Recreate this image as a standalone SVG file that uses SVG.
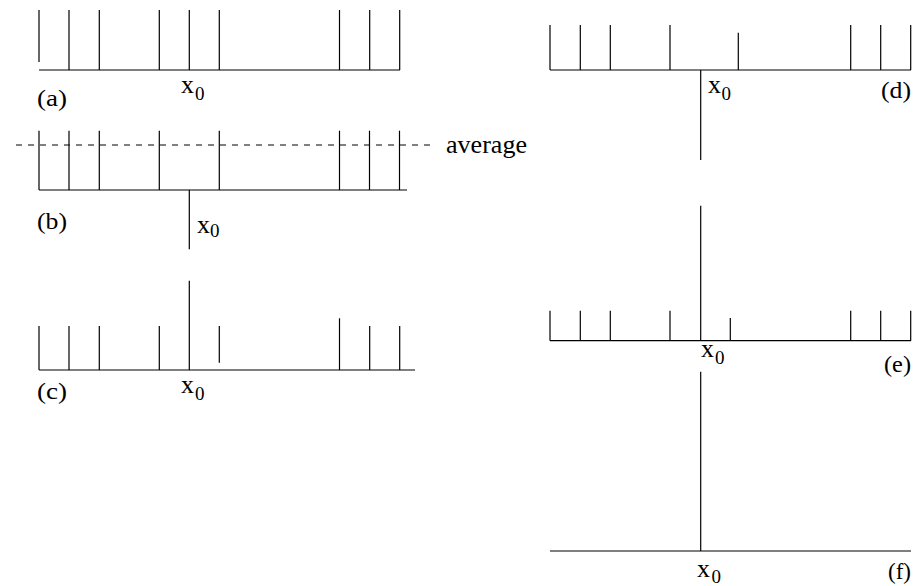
<svg xmlns="http://www.w3.org/2000/svg" width="919" height="586" viewBox="0 0 919 586">
<style>
  line { stroke: #000; stroke-width: 1.2; fill: none; }
  .dash { stroke-dasharray: 6 6; stroke-width: 1; }
  text { font-family: "Liberation Serif", "Times New Roman", Times, serif; fill: #000; }
  .lab { font-size: 24px; }
  .x { font-size: 26px; }
  .sub { font-size: 19px; }
  .avg { font-size: 26px; }
</style>
<rect width="919" height="586" fill="#fff"/>

<g id="panel-a">
  <line x1="39" y1="70" x2="400" y2="70"/>
  <line x1="39" y1="10" x2="39" y2="62"/>
  <line x1="69" y1="10" x2="69" y2="70"/>
  <line x1="99.3" y1="10" x2="99.3" y2="70"/>
  <line x1="159.3" y1="10" x2="159.3" y2="70"/>
  <line x1="189.3" y1="10" x2="189.3" y2="70"/>
  <line x1="219.3" y1="10" x2="219.3" y2="70"/>
  <line x1="339.5" y1="10" x2="339.5" y2="70"/>
  <line x1="369.7" y1="10" x2="369.7" y2="70"/>
  <line x1="399.7" y1="10" x2="399.7" y2="70"/>
  <text class="lab" x="37" y="106" textLength="30" lengthAdjust="spacingAndGlyphs">(a)</text>
  <text class="x" x="181" y="93">x</text>
  <text class="sub" x="195" y="100">0</text>
</g>

<g id="panel-b">
  <line class="dash" x1="16" y1="145" x2="432" y2="145"/>
  <line x1="39" y1="190" x2="407" y2="190"/>
  <line x1="39" y1="130.7" x2="39" y2="190"/>
  <line x1="69" y1="130.7" x2="69" y2="190"/>
  <line x1="99.3" y1="130.7" x2="99.3" y2="190"/>
  <line x1="159.3" y1="130.7" x2="159.3" y2="190"/>
  <line x1="219.3" y1="130.7" x2="219.3" y2="190"/>
  <line x1="339.5" y1="130.7" x2="339.5" y2="190"/>
  <line x1="369.5" y1="130.7" x2="369.5" y2="190"/>
  <line x1="399.5" y1="130.7" x2="399.5" y2="190"/>
  <line x1="189.3" y1="190" x2="189.3" y2="249.3"/>
  <text class="avg" x="446" y="153" textLength="81" lengthAdjust="spacingAndGlyphs">average</text>
  <text class="lab" x="37" y="229" textLength="30" lengthAdjust="spacingAndGlyphs">(b)</text>
  <text class="x" x="197" y="233">x</text>
  <text class="sub" x="210" y="237">0</text>
</g>

<g id="panel-c">
  <line x1="39" y1="370" x2="415" y2="370"/>
  <line x1="39" y1="326" x2="39" y2="370"/>
  <line x1="69" y1="326" x2="69" y2="370"/>
  <line x1="99.3" y1="326" x2="99.3" y2="370"/>
  <line x1="159.3" y1="326" x2="159.3" y2="370"/>
  <line x1="189.3" y1="280.7" x2="189.3" y2="370"/>
  <line x1="219.3" y1="326" x2="219.3" y2="362.7"/>
  <line x1="339.5" y1="318.3" x2="339.5" y2="370"/>
  <line x1="369.7" y1="326" x2="369.7" y2="370"/>
  <line x1="399.7" y1="326" x2="399.7" y2="370"/>
  <text class="lab" x="37" y="399" textLength="30" lengthAdjust="spacingAndGlyphs">(c)</text>
  <text class="x" x="181" y="393">x</text>
  <text class="sub" x="195" y="400">0</text>
</g>

<g id="panel-d">
  <line x1="550" y1="70" x2="911" y2="70"/>
  <line x1="550" y1="25" x2="550" y2="70"/>
  <line x1="580.3" y1="25" x2="580.3" y2="70"/>
  <line x1="610.3" y1="25" x2="610.3" y2="70"/>
  <line x1="670" y1="25" x2="670" y2="70"/>
  <line x1="700.7" y1="70" x2="700.7" y2="160"/>
  <line x1="738.3" y1="32.7" x2="738.3" y2="70"/>
  <line x1="850.7" y1="25" x2="850.7" y2="70"/>
  <line x1="880.7" y1="25" x2="880.7" y2="70"/>
  <line x1="910.7" y1="25" x2="910.7" y2="70"/>
  <text class="x" x="708" y="93">x</text>
  <text class="sub" x="721.5" y="100">0</text>
  <text class="lab" x="881" y="98" textLength="30" lengthAdjust="spacingAndGlyphs">(d)</text>
</g>

<g id="panel-e">
  <line x1="550" y1="340.7" x2="911" y2="340.7"/>
  <line x1="550" y1="310.7" x2="550" y2="340.7"/>
  <line x1="580.3" y1="310.7" x2="580.3" y2="340.7"/>
  <line x1="610.3" y1="310.7" x2="610.3" y2="340.7"/>
  <line x1="670" y1="310.7" x2="670" y2="340.7"/>
  <line x1="700.7" y1="205.7" x2="700.7" y2="340.7"/>
  <line x1="730.3" y1="318" x2="730.3" y2="340.7"/>
  <line x1="850.7" y1="310.7" x2="850.7" y2="340.7"/>
  <line x1="880.7" y1="310.7" x2="880.7" y2="340.7"/>
  <line x1="910.7" y1="310.7" x2="910.7" y2="340.7"/>
  <text class="x" x="701" y="357">x</text>
  <text class="sub" x="715" y="364">0</text>
  <text class="lab" x="884" y="372" textLength="27" lengthAdjust="spacingAndGlyphs">(e)</text>
</g>

<g id="panel-f">
  <line x1="550" y1="551" x2="911" y2="551"/>
  <line x1="700.7" y1="371.7" x2="700.7" y2="551"/>
  <text class="x" x="697" y="577">x</text>
  <text class="sub" x="711.5" y="583">0</text>
  <text class="lab" x="888" y="579" textLength="23" lengthAdjust="spacingAndGlyphs">(f)</text>
</g>
</svg>
